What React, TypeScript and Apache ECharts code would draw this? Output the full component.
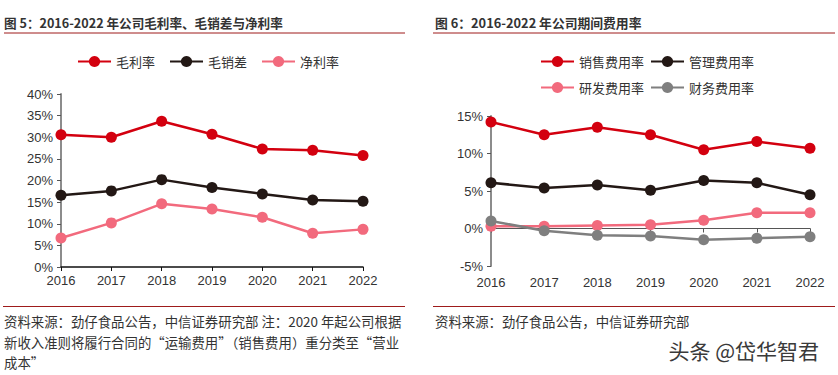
import React, { useEffect, useRef } from "react";
import * as echarts from "echarts";

const years = ["2016", "2017", "2018", "2019", "2020", "2021", "2022"];

// Left chart (%)
const grossMargin = [30.6, 30.0, 33.7, 30.7, 27.3, 27.0, 25.8];
const grossMinusSales = [16.6, 17.6, 20.2, 18.4, 16.9, 15.5, 15.2];
const netMargin = [6.7, 10.2, 14.6, 13.4, 11.5, 7.8, 8.7];

// Right chart (%)
const salesExp = [14.2, 12.5, 13.5, 12.5, 10.5, 11.6, 10.7];
const adminExp = [6.1, 5.4, 5.8, 5.1, 6.4, 6.1, 4.5];
const rdExp = [0.3, 0.3, 0.4, 0.5, 1.1, 2.1, 2.1];
const finExp = [1.0, -0.3, -0.9, -1.0, -1.5, -1.3, -1.1];

const leftNames = ["毛利率", "毛销差", "净利率"];
const rightNames = ["销售费用率", "管理费用率", "研发费用率", "财务费用率"];

const RED = "#D3000F";
const BLACK = "#231815";
const PINK = "#F26A7D";
const GRAY = "#7F7F7F";

const FONT = "'Liberation Sans', Arial, 'Noto Sans CJK SC', sans-serif";
const CJK = "'Noto Sans CJK SC', 'Liberation Sans', sans-serif";

function lineSeries(name: string, data: number[], color: string, xi: number, yi: number) {
  return {
    name,
    type: "line",
    xAxisIndex: xi,
    yAxisIndex: yi,
    data,
    symbol: "circle",
    symbolSize: 11,
    lineStyle: { color, width: 2.5 },
    itemStyle: { color },
    z: 3,
  };
}

export default function App() {
  const ref = useRef<HTMLDivElement>(null);
  useEffect(() => {
    if (!ref.current) return;
    const chart = echarts.init(ref.current, undefined, { renderer: "svg" });
    const legendText = { fontSize: 13, color: "#333", fontFamily: CJK };
    const axisLabel = { fontSize: 13, color: "#333", fontFamily: FONT };
    chart.setOption({
      animation: false,
      backgroundColor: "#fff",
      grid: [
        { left: 61, right: 475, top: 94, bottom: 108, containLabel: false },
        { left: 491, right: 28, top: 116, bottom: 109, containLabel: false },
      ],
      legend: [
        {
          data: leftNames,
          left: 72,
          top: 50,
          itemWidth: 33,
          itemHeight: 14,
          itemGap: 14,
          textStyle: legendText,
        },
        {
          data: ["销售费用率", "管理费用率"],
          left: 535,
          top: 50,
          itemWidth: 33,
          itemHeight: 14,
          itemGap: 6,
          textStyle: legendText,
        },
        {
          data: ["研发费用率", "财务费用率"],
          left: 535,
          top: 76,
          itemWidth: 33,
          itemHeight: 14,
          itemGap: 6,
          textStyle: legendText,
        },
      ],
      xAxis: [
        {
          gridIndex: 0,
          type: "category",
          data: years,
          boundaryGap: false,
          axisLine: { lineStyle: { color: "#111", width: 1.5 } },
          axisTick: { show: true, length: 4, lineStyle: { color: "#111" } },
          axisLabel: { ...axisLabel, margin: 7 },
        },
        {
          gridIndex: 1,
          type: "category",
          data: years,
          boundaryGap: false,
          position: "bottom",
          axisLine: { show: false, onZero: false },
          axisTick: { show: false },
          axisLabel: { ...axisLabel, margin: 10 },
        },
        {
          gridIndex: 1,
          type: "category",
          data: years,
          boundaryGap: false,
          position: "bottom",
          axisLine: { show: true, onZero: true, lineStyle: { color: "#555", width: 1.2 } },
          axisTick: { show: true, length: 4, lineStyle: { color: "#555" } },
          axisLabel: { show: false },
        },
      ],
      yAxis: [
        {
          gridIndex: 0,
          type: "value",
          min: 0,
          max: 40,
          interval: 5,
          axisLine: { show: true, lineStyle: { color: "#8C8C8C", width: 2 } },
          axisTick: { show: true, length: 4, lineStyle: { color: "#555" } },
          splitLine: { show: false },
          axisLabel: { ...axisLabel, margin: 8, formatter: "{value}%" },
        },
        {
          gridIndex: 1,
          type: "value",
          min: -5,
          max: 15,
          interval: 5,
          axisLine: { show: true, lineStyle: { color: "#8C8C8C", width: 2 } },
          axisTick: { show: true, length: 4, lineStyle: { color: "#555" } },
          splitLine: { show: false },
          axisLabel: { ...axisLabel, margin: 8, formatter: "{value}%" },
        },
      ],
      series: [
        lineSeries(leftNames[0], grossMargin, RED, 0, 0),
        lineSeries(leftNames[1], grossMinusSales, BLACK, 0, 0),
        lineSeries(leftNames[2], netMargin, PINK, 0, 0),
        lineSeries(rightNames[0], salesExp, RED, 1, 1),
        lineSeries(rightNames[1], adminExp, BLACK, 1, 1),
        lineSeries(rightNames[2], rdExp, PINK, 1, 1),
        lineSeries(rightNames[3], finExp, GRAY, 1, 1),
      ],
      graphic: [
        {
          type: "text",
          left: 4,
          top: 16,
          style: {
            text: "图 5：2016-2022 年公司毛利率、毛销差与净利率",
            fontSize: 12.6,
            fontWeight: "bold",
            fill: "#333",
            fontFamily: CJK,
          },
        },
        { type: "line", shape: { x1: 4, y1: 33, x2: 405, y2: 33 }, style: { stroke: "#9E1B1B", lineWidth: 1 } },
        {
          type: "text",
          left: 435,
          top: 16,
          style: {
            text: "图 6：2016-2022 年公司期间费用率",
            fontSize: 12.8,
            fontWeight: "bold",
            fill: "#333",
            fontFamily: CJK,
          },
        },
        { type: "line", shape: { x1: 433, y1: 33, x2: 835, y2: 33 }, style: { stroke: "#9E1B1B", lineWidth: 1 } },
        { type: "line", shape: { x1: 3, y1: 306.5, x2: 405, y2: 306.5 }, style: { stroke: "#9E1B1B", lineWidth: 1 } },
        { type: "line", shape: { x1: 433, y1: 306.5, x2: 835, y2: 306.5 }, style: { stroke: "#9E1B1B", lineWidth: 1 } },
        {
          type: "text",
          left: 4,
          top: 311,
          style: {
            text: "资料来源：劲仔食品公告，中信证券研究部 注：2020 年起公司根据\n新收入准则将履行合同的“运输费用”（销售费用）重分类至“营业\n成本”",
            fontSize: 13.4,
            lineHeight: 20.5,
            fill: "#333",
            fontFamily: CJK,
          },
        },
        {
          type: "text",
          left: 435,
          top: 311,
          style: {
            text: "资料来源：劲仔食品公告，中信证券研究部",
            fontSize: 13.4,
            lineHeight: 20.5,
            fill: "#333",
            fontFamily: CJK,
          },
        },
        {
          type: "text",
          left: 668,
          top: 339,
          style: {
            text: "头条 @岱华智君",
            fontSize: 21,
            fill: "#3a3a3a",
            fontFamily: CJK,
            stroke: "#fff",
            lineWidth: 1,
          },
        },
      ],
    });
    return () => chart.dispose();
  }, []);
  return (
    <div
      ref={ref}
      style={{ position: "fixed", left: 0, top: 0, width: 838, height: 375, background: "#fff" }}
    />
  );
}
